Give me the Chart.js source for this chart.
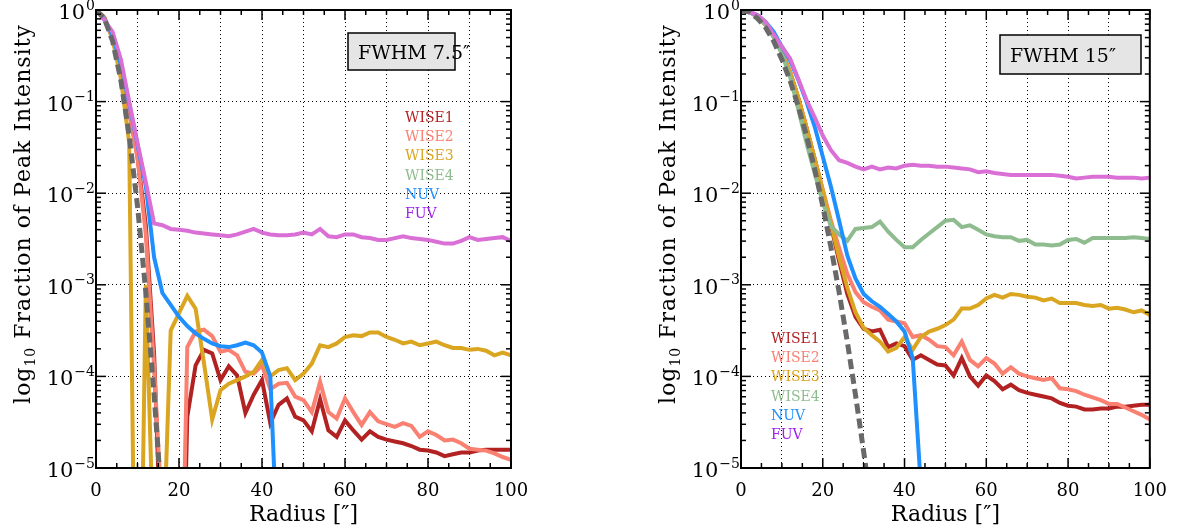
<!DOCTYPE html>
<html>
<head>
<meta charset="utf-8">
<script src="https://cdn.jsdelivr.net/npm/chart.js@4.4.1/dist/chart.umd.min.js"></script>
<style>
  html, body { margin: 0; padding: 0; background: #fff; }
  body { width: 1180px; height: 531px; position: relative; overflow: hidden; }
  canvas { position: absolute; top: 0; }
  #psf75 { left: 0; }
  #psf15 { left: 645px; }
</style>
</head>
<body>
<canvas id="psf75" width="590" height="531"></canvas>
<canvas id="psf15" width="535" height="531"></canvas>
<script>
// Radial profiles, log10 of the fraction of peak intensity, sampled every 2"
const radius = [0, 2, 4, 6, 8, 10, 12, 14, 16, 18, 20, 22, 24, 26, 28, 30, 32, 34, 36, 38, 40,
  42, 44, 46, 48, 50, 52, 54, 56, 58, 60, 62, 64, 66, 68, 70, 72, 74, 76, 78, 80,
  82, 84, 86, 88, 90, 92, 94, 96, 98, 100];

// FWHM 7.5" kernels
const wise1Fw75 = [0, -0.08, -0.3, -0.66, -1.1, -1.6, -2.35, -3.75, -6.3, -8.5, -8.2,
  -4.44, -3.88, -3.71, -3.75, -4.04, -3.89, -3.99, -4.40, -4.20, -4.04,
  -4.51, -4.31, -4.24, -4.44, -4.48, -4.60, -4.25, -4.59, -4.66, -4.48,
  -4.59, -4.69, -4.60, -4.66, -4.69, -4.71, -4.73, -4.76, -4.80, -4.81,
  -4.83, -4.87, -4.85, -4.83, -4.83, -4.81, -4.80, -4.80, -4.80, -4.80];
const wise2Fw75 = [0, -0.08, -0.31, -0.68, -1.12, -1.62, -2.45, -3.9, -5.6, -8, -8,
  -3.68, -3.51, -3.49, -3.56, -3.73, -3.71, -3.77, -3.95, -3.97, -3.88,
  -4.14, -4.08, -4.07, -4.22, -4.26, -4.39, -4.06, -4.39, -4.46, -4.24,
  -4.39, -4.53, -4.39, -4.49, -4.52, -4.55, -4.51, -4.54, -4.66, -4.60,
  -4.64, -4.70, -4.69, -4.73, -4.79, -4.80, -4.81, -4.84, -4.88, -4.91];
const wise3Fw75 = [0, -0.09, -0.32, -0.75, -1.45, -9, -3.0, -6.1, -6.2, -3.5, -3.31,
  -3.12, -3.26, -3.85, -4.47, -4.15, -4.08, -4.04, -4.0, -3.95, -3.82,
  -4.0, -3.93, -3.91, -4.04, -3.97, -3.86, -3.66, -3.68, -3.64, -3.57,
  -3.55, -3.56, -3.52, -3.52, -3.57, -3.60, -3.64, -3.62, -3.66, -3.64,
  -3.62, -3.66, -3.69, -3.69, -3.71, -3.70, -3.72, -3.77, -3.74, -3.77];
const nuvFw75 = [0, -0.1, -0.28, -0.6, -1.02, -1.47, -1.92, -2.7, -3.09, -3.22, -3.35,
  -3.45, -3.53, -3.59, -3.64, -3.67, -3.68, -3.66, -3.63, -3.66, -3.74,
  -4.0, -6.2, null, null, null, null, null, null, null, null,
  null, null, null, null, null, null, null, null, null, null,
  null, null, null, null, null, null, null, null, null, null];
const fuvFw75 = [0, -0.11, -0.24, -0.54, -1.0, -1.45, -1.88, -2.33, -2.35, -2.39, -2.40,
  -2.41, -2.43, -2.44, -2.45, -2.46, -2.47, -2.45, -2.42, -2.39, -2.43,
  -2.45, -2.46, -2.46, -2.45, -2.43, -2.45, -2.39, -2.47, -2.48, -2.45,
  -2.45, -2.48, -2.49, -2.51, -2.51, -2.49, -2.47, -2.49, -2.50, -2.51,
  -2.53, -2.55, -2.55, -2.52, -2.48, -2.51, -2.50, -2.49, -2.48, -2.52];
const gaussFw75 = [0, -0.09, -0.34, -0.77, -1.37, -2.14, -3.08, -4.2, -5.48, null, null,
  null, null, null, null, null, null, null, null, null, null,
  null, null, null, null, null, null, null, null, null, null,
  null, null, null, null, null, null, null, null, null, null,
  null, null, null, null, null, null, null, null, null, null];

// FWHM 15" kernels
const wise1Fw15 = [0, -0.02, -0.07, -0.16, -0.29, -0.46, -0.68, -0.96, -1.28, -1.62,
  -1.98, -2.35, -2.74, -3.1, -3.35, -3.48, -3.51, -3.49, -3.68, -3.64,
  -3.67, -3.82, -3.77, -3.82, -3.87, -3.88, -3.99, -3.80, -4.0, -4.10,
  -3.99, -4.05, -4.14, -4.09, -4.15, -4.18, -4.20, -4.22, -4.24, -4.29,
  -4.32, -4.33, -4.36, -4.36, -4.35, -4.35, -4.33, -4.33, -4.32, -4.31, -4.31];
const wise2Fw15 = [0, -0.02, -0.07, -0.16, -0.29, -0.46, -0.68, -0.96, -1.28, -1.62,
  -1.96, -2.3, -2.6, -2.88, -3.08, -3.19, -3.24, -3.28, -3.38, -3.40,
  -3.42, -3.57, -3.55, -3.60, -3.67, -3.68, -3.77, -3.62, -3.82, -3.89,
  -3.80, -3.86, -3.97, -3.90, -3.97, -4.0, -4.02, -4.04, -4.02, -4.13,
  -4.14, -4.16, -4.20, -4.23, -4.26, -4.30, -4.30, -4.34, -4.38, -4.42, -4.47];
const wise3Fw15 = [0, -0.02, -0.07, -0.16, -0.29, -0.46, -0.68, -0.96, -1.28, -1.62,
  -1.97, -2.33, -2.7, -3.03, -3.3, -3.47, -3.55, -3.62, -3.73, -3.69,
  -3.57, -3.71, -3.57, -3.51, -3.48, -3.44, -3.38, -3.26, -3.26, -3.22,
  -3.15, -3.11, -3.14, -3.10, -3.11, -3.13, -3.14, -3.17, -3.15, -3.20,
  -3.20, -3.20, -3.22, -3.23, -3.22, -3.26, -3.25, -3.27, -3.30, -3.28, -3.33];
const wise4Fw15 = [0, -0.02, -0.07, -0.16, -0.3, -0.48, -0.73, -1.08, -1.45, -1.78,
  -2.1, -2.36, -2.45, -2.52, -2.39, -2.38, -2.37, -2.31, -2.42, -2.51,
  -2.59, -2.59, -2.51, -2.44, -2.37, -2.30, -2.29, -2.37, -2.35, -2.40,
  -2.45, -2.47, -2.48, -2.48, -2.52, -2.51, -2.56, -2.56, -2.57, -2.56,
  -2.51, -2.50, -2.54, -2.49, -2.49, -2.49, -2.49, -2.49, -2.48, -2.49, -2.50];
const nuvFw15 = [0, -0.02, -0.055, -0.13, -0.24, -0.40, -0.55, -0.76, -1.0, -1.27,
  -1.60, -1.93, -2.3, -2.68, -2.93, -3.1, -3.18, -3.24, -3.32, -3.40,
  -3.51, -3.8, -5.2, null, null, null, null, null, null, null,
  null, null, null, null, null, null, null, null, null, null,
  null, null, null, null, null, null, null, null, null, null, null];
const fuvFw15 = [0, -0.02, -0.055, -0.13, -0.27, -0.40, -0.53, -0.75, -0.98, -1.17,
  -1.37, -1.53, -1.64, -1.67, -1.71, -1.74, -1.71, -1.74, -1.72, -1.73,
  -1.70, -1.69, -1.70, -1.70, -1.71, -1.71, -1.72, -1.73, -1.74, -1.77,
  -1.76, -1.78, -1.79, -1.80, -1.80, -1.80, -1.80, -1.80, -1.80, -1.81,
  -1.82, -1.84, -1.83, -1.82, -1.82, -1.82, -1.83, -1.83, -1.83, -1.84, -1.83];
const gaussFw15 = [0, -0.02, -0.09, -0.19, -0.34, -0.54, -0.77, -1.05, -1.37, -1.73,
  -2.14, -2.59, -3.08, -3.62, -4.2, -4.82, -5.48, null, null, null,
  null, null, null, null, null, null, null, null, null, null,
  null, null, null, null, null, null, null, null, null, null,
  null, null, null, null, null, null, null, null, null, null, null];

// Band names, line colours and legend text colours
const bandNames = ['WISE1', 'WISE2', 'WISE3', 'WISE4', 'NUV', 'FUV'];
const lineColors = ['#b22222', '#fa8072', '#daa520', '#8fbc8f', '#1e90ff', '#da70d6'];
const labelColors = ['#b22222', '#fa8072', '#daa520', '#8fbc8f', '#1e90ff', '#a020f0'];

// Axis ticks
const xLabelled = [0, 20, 40, 60, 80, 100];
const yDecades = [0, -1, -2, -3, -4, -5];

const FONT = '"DejaVu Serif", "Liberation Serif", serif';

function points(vals) {
  return radius.map((r, i) => ({ x: r, y: vals[i] }));
}

function line(ctx, x1, y1, x2, y2) {
  ctx.beginPath();
  ctx.moveTo(x1, y1);
  ctx.lineTo(x2, y2);
  ctx.stroke();
}

// IDL-style frame: inward ticks on all sides, 10^n labels, legend text, FWHM box
const idlFrame = {
  id: 'idlFrame',
  afterDraw(chart, args, opts) {
    const { ctx, chartArea: a, scales: { x, y } } = chart;
    ctx.save();

    // minor / major ticks along x (every 5, major every 20)
    ctx.strokeStyle = '#000';
    ctx.lineWidth = 1.5;
    for (let v = 0; v <= 100; v += 5) {
      const px = x.getPixelForValue(v);
      const len = v % 20 === 0 ? 10 : 5;
      line(ctx, px, a.bottom, px, a.bottom - len);
      line(ctx, px, a.top, px, a.top + len);
    }
    // log ticks along y
    for (let k = -5; k <= 0; k++) {
      const py = y.getPixelForValue(k);
      line(ctx, a.left, py, a.left + 10, py);
      line(ctx, a.right, py, a.right - 10, py);
      if (k === 0) continue;
      for (let m = 2; m <= 9; m++) {
        const pm = y.getPixelForValue(k + Math.log10(m));
        line(ctx, a.left, pm, a.left + 5, pm);
        line(ctx, a.right, pm, a.right - 5, pm);
      }
    }

    // frame
    ctx.lineWidth = 2;
    ctx.strokeRect(a.left, a.top, a.right - a.left, a.bottom - a.top);

    // y tick labels 10^n
    ctx.fillStyle = '#000';
    ctx.textBaseline = 'alphabetic';
    ctx.textAlign = 'right';
    yDecades.forEach(k => {
      const py = y.getPixelForValue(k);
      const sup = k === 0 ? '0' : '\u2212' + Math.abs(k);
      ctx.font = `14px ${FONT}`;
      const sw = ctx.measureText(sup).width;
      ctx.fillText(sup, a.left - 1, py - 0.5);
      ctx.font = `21px ${FONT}`;
      ctx.fillText('10', a.left - 2 - sw, py + 9);
    });

    // y title with subscript
    ctx.save();
    ctx.translate(30, (a.top + a.bottom) / 2 - 25);
    ctx.rotate(-Math.PI / 2);
    ctx.textAlign = 'left';
    ctx.letterSpacing = '1px';
    const big = `22px ${FONT}`;
    const small = `14px ${FONT}`;
    const rest = ' Fraction of Peak Intensity';
    ctx.font = big;
    const w1 = ctx.measureText('log').width;
    const w3 = ctx.measureText(rest).width;
    ctx.font = small;
    const w2 = ctx.measureText('10').width;
    let tx = -(w1 + w2 + w3) / 2;
    ctx.font = big;
    ctx.fillText('log', tx, 0);
    tx += w1;
    ctx.font = small;
    ctx.fillText('10', tx, 5);
    tx += w2;
    ctx.font = big;
    ctx.fillText(rest, tx, 0);
    ctx.restore();

    // legend text
    ctx.textAlign = 'left';
    ctx.font = `14px ${FONT}`;
    bandNames.forEach((name, i) => {
      ctx.fillStyle = labelColors[i];
      ctx.fillText(name, a.left + opts.legendX, a.top + opts.legendY + i * 19.2);
    });

    // FWHM box
    const b = opts.box;
    ctx.fillStyle = '#e5e5e5';
    ctx.fillRect(a.left + b.x, a.top + b.y, b.w, b.h);
    ctx.lineWidth = 1.5;
    ctx.strokeStyle = '#000';
    ctx.strokeRect(a.left + b.x, a.top + b.y, b.w, b.h);
    ctx.fillStyle = '#000';
    ctx.font = `19px ${FONT}`;
    ctx.fillText(b.text, a.left + b.x + 10, a.top + b.y + b.h / 2 + 7);

    ctx.restore();
  }
};

function createProfileChart(canvasId, profiles, padRight, frameOpts) {
  const ctx = document.getElementById(canvasId).getContext('2d');

  // first dataset is drawn on top: model curve, then FUV ... WISE1
  const datasets = [{
    data: points(profiles.gauss),
    borderColor: '#696969',
    borderWidth: 5,
    borderDash: [10, 5],
    pointRadius: 0,
    tension: 0,
    clip: 0
  }];
  for (let i = bandNames.length - 1; i >= 0; i--) {
    const vals = profiles.bands[i];
    if (!vals) continue;
    datasets.push({
      label: bandNames[i],
      data: points(vals),
      borderColor: lineColors[i],
      borderWidth: 4,
      pointRadius: 0,
      tension: 0,
      clip: 0
    });
  }

  return new Chart(ctx, {
    type: 'line',
    data: { datasets },
    options: {
      responsive: false,
      animation: false,
      layout: { padding: { top: 10, right: padRight, left: 0, bottom: 0 } },
      plugins: {
        legend: { display: false },
        tooltip: { enabled: false },
        idlFrame: frameOpts
      },
      scales: {
        x: {
          type: 'linear',
          min: 0,
          max: 100,
          afterFit: (scale) => { scale.height = 63; },
          ticks: {
            stepSize: 10,
            autoSkip: false,
            maxRotation: 0,
            padding: 13,
            color: '#000',
            font: { family: FONT, size: 18 },
            callback: (value) => xLabelled.includes(value) ? String(value) : ''
          },
          grid: { color: '#000', lineWidth: 1, drawTicks: false },
          border: { display: false, dash: [1, 3] },
          title: {
            display: true,
            text: 'Radius [\u2033]',
            color: '#000',
            font: { family: FONT, size: 22 },
            padding: { top: 0, bottom: 3 }
          }
        },
        y: {
          type: 'linear',
          min: -5,
          max: 0,
          afterFit: (scale) => { scale.width = 96; },
          ticks: { stepSize: 1, display: false },
          grid: { color: '#000', lineWidth: 1, drawTicks: false },
          border: { display: false, dash: [1, 3] }
        }
      }
    },
    plugins: [idlFrame]
  });
}

createProfileChart('psf75', {
  gauss: gaussFw75,
  bands: [wise1Fw75, wise2Fw75, wise3Fw75, null, nuvFw75, fuvFw75]
}, 79, {
  legendX: 309, legendY: 112,
  box: { x: 252, y: 23, w: 107, h: 37, text: 'FWHM 7.5\u2033' }
});

createProfileChart('psf15', {
  gauss: gaussFw15,
  bands: [wise1Fw15, wise2Fw15, wise3Fw15, wise4Fw15, nuvFw15, fuvFw15]
}, 24, {
  legendX: 30, legendY: 333,
  box: { x: 259, y: 25, w: 141, h: 39, text: 'FWHM 15\u2033' }
});
</script>
</body>
</html>
